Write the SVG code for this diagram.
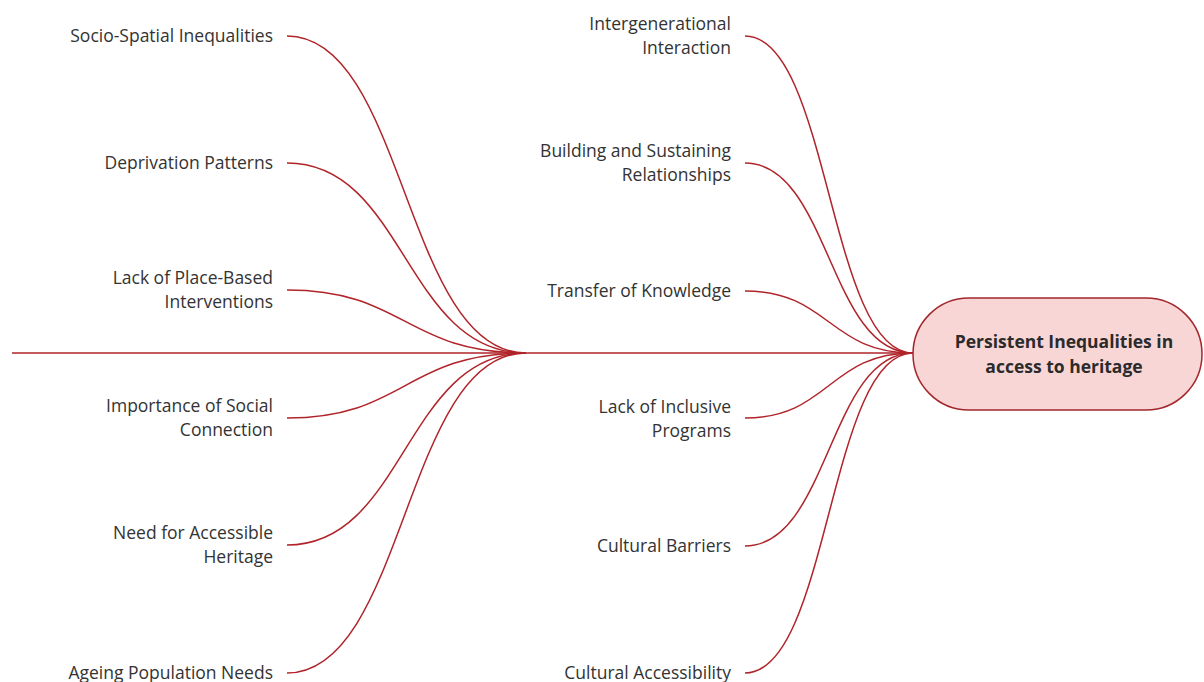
<svg xmlns="http://www.w3.org/2000/svg" width="1204" height="682" viewBox="0 0 1204 682">
<style>
.bg{fill:#ffffff}
.edge{fill:none;stroke:#b0242a;stroke-width:1.5}
.lbl{font-family:"Open Sans","Noto Sans",sans-serif;font-size:17.5px;fill:#333333;text-anchor:end}
.root-shape{fill:#f9d6d6;stroke:#a3262b;stroke-width:1.5}
.root-text{font-family:"Open Sans","Noto Sans",sans-serif;font-size:17.5px;font-weight:bold;fill:#2b2b2b;text-anchor:middle}
</style>
<rect class="bg" x="0" y="0" width="1204" height="682"/>
<g id="connectors">
  <path class="edge" d="M12,353 H913"/>
  <!-- left branch -->
  <path class="edge" d="M287,36 C405,36 405,353 526,353"/>
  <path class="edge" d="M287,163 C405,163 405,353 526,353"/>
  <path class="edge" d="M287,290 C405,290 405,353 526,353"/>
  <path class="edge" d="M287,418 C405,418 405,353 526,353"/>
  <path class="edge" d="M287,545 C405,545 405,353 526,353"/>
  <path class="edge" d="M287,673 C405,673 405,353 526,353"/>
  <!-- right branch -->
  <path class="edge" d="M745,36 C829,36 829,353 913,353"/>
  <path class="edge" d="M745,163 C829,163 829,353 913,353"/>
  <path class="edge" d="M745,291 C829,291 829,353 913,353"/>
  <path class="edge" d="M745,418 C829,418 829,353 913,353"/>
  <path class="edge" d="M745,546 C829,546 829,353 913,353"/>
  <path class="edge" d="M745,673 C829,673 829,353 913,353"/>
</g>
<g id="root">
  <rect class="root-shape" x="913" y="298" width="289" height="112" rx="56" ry="56"/>
  <text class="root-text" x="1064" y="348">Persistent Inequalities in</text>
  <text class="root-text" x="1064" y="373">access to heritage</text>
</g>
<g id="n-socio-spatial"><text class="lbl" x="273" y="42">Socio-Spatial Inequalities</text></g>
<g id="n-deprivation"><text class="lbl" x="273" y="169">Deprivation Patterns</text></g>
<g id="n-place-based"><text class="lbl" x="273" y="284">Lack of Place-Based</text><text class="lbl" x="273" y="308">Interventions</text></g>
<g id="n-social-connection"><text class="lbl" x="273" y="412">Importance of Social</text><text class="lbl" x="273" y="436">Connection</text></g>
<g id="n-accessible-heritage"><text class="lbl" x="273" y="539">Need for Accessible</text><text class="lbl" x="273" y="563">Heritage</text></g>
<g id="n-ageing"><text class="lbl" x="273" y="679">Ageing Population Needs</text></g>
<g id="n-intergenerational"><text class="lbl" x="731" y="30">Intergenerational</text><text class="lbl" x="731" y="54">Interaction</text></g>
<g id="n-relationships"><text class="lbl" x="731" y="157">Building and Sustaining</text><text class="lbl" x="731" y="181">Relationships</text></g>
<g id="n-knowledge"><text class="lbl" x="731" y="297">Transfer of Knowledge</text></g>
<g id="n-inclusive"><text class="lbl" x="731" y="413">Lack of Inclusive</text><text class="lbl" x="731" y="437">Programs</text></g>
<g id="n-barriers"><text class="lbl" x="731" y="552">Cultural Barriers</text></g>
<g id="n-accessibility"><text class="lbl" x="731" y="679">Cultural Accessibility</text></g>
</svg>
